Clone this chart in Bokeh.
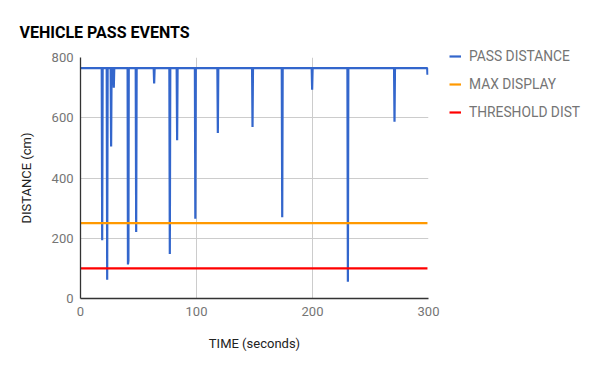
from bokeh.plotting import figure
from bokeh.models import Legend, LegendItem, FixedTicker, Range1d
from bokeh.embed import file_html
from bokeh.resources import INLINE

# ---- data ----
time_s = [0, 18.3, 18.7, 19.1, 22.6, 23.0, 23.4, 26.0, 26.4, 26.8, 28.3, 28.7, 29.1,
          40.6, 40.9, 41.3, 41.6, 47.6, 48.0, 48.4, 63.1, 63.5, 63.9,
          76.6, 77.0, 77.4, 82.9, 83.3, 83.7, 98.6, 99.0, 99.4,
          118.0, 118.4, 118.8, 147.9, 148.3, 148.7, 173.5, 173.9, 174.3,
          199.3, 199.7, 200.1, 230.1, 230.5, 230.9, 270.3, 270.7, 271.1,
          298.9, 299.1]
pass_distance = [765, 765, 193, 765, 765, 62, 765, 765, 505, 765, 765, 700, 765,
                 765, 113, 125, 765, 765, 221, 765, 765, 714, 765,
                 765, 148, 765, 765, 525, 765, 765, 265, 765,
                 765, 549, 765, 765, 569, 765, 765, 270, 765,
                 765, 693, 765, 765, 56, 765, 765, 587, 765,
                 765, 743]
ref_time = [0, 299.1]
max_display = [250, 250]
threshold_dist = [100, 100]

x_ticks = [0, 100, 200, 300]
y_ticks = [0, 200, 400, 600, 800]

FONT = "Roboto"

p = figure(frame_width=348, frame_height=241, output_backend="svg", toolbar_location=None,
           x_range=Range1d(0, 300), y_range=Range1d(0, 800),
           min_border_left=80, min_border_right=164, min_border_top=57, min_border_bottom=65,
           title="VEHICLE PASS EVENTS")
p.outline_line_color = None
p.background_fill_color = "white"
p.border_fill_color = "white"

p.title.text_font = FONT
p.title.text_font_size = "16px"
p.title.text_font_style = "bold"
p.title.text_color = "#000000"
p.title.align = "left"
p.title.offset = -61
p.title.standoff = 32

r_blue = p.line(time_s, pass_distance, line_color="#3366cc", line_width=2.2)
r_orange = p.line(ref_time, max_display, line_color="#ff9900", line_width=2.2)
r_red = p.line(ref_time, threshold_dist, line_color="#ff0000", line_width=2.2)

for ax in (p.xaxis[0], p.yaxis[0]):
    ax.axis_line_color = "#333333"
    ax.axis_line_width = 1.3
    ax.major_tick_line_color = None
    ax.minor_tick_line_color = None
    ax.major_tick_out = 0
    ax.major_tick_in = 0
    ax.minor_tick_out = 0
    ax.minor_tick_in = 0
    ax.major_label_text_font = FONT
    ax.major_label_text_font_size = "13px"
    ax.major_label_text_color = "#757575"
    ax.axis_label_text_font = FONT
    ax.axis_label_text_font_size = "13px"
    ax.axis_label_text_color = "#222222"
    ax.axis_label_text_font_style = "normal"

p.xaxis.ticker = FixedTicker(ticks=x_ticks)
p.yaxis.ticker = FixedTicker(ticks=y_ticks)
p.xaxis.axis_label = "TIME (seconds)"
p.yaxis.axis_label = "DISTANCE (cm)"
p.xaxis.major_label_standoff = 8
p.yaxis.major_label_standoff = 7
p.xaxis.axis_label_standoff = 17
p.yaxis.axis_label_standoff = 15

p.xgrid.ticker = FixedTicker(ticks=x_ticks)
p.ygrid.ticker = FixedTicker(ticks=y_ticks)
p.grid.grid_line_color = "#cccccc"
p.grid.grid_line_width = 1

legend = Legend(items=[LegendItem(label="PASS DISTANCE", renderers=[r_blue]),
                       LegendItem(label="MAX DISPLAY", renderers=[r_orange]),
                       LegendItem(label="THRESHOLD DIST", renderers=[r_red])],
                location=(21, 176), margin=0, padding=0, border_line_color=None,
                background_fill_alpha=0, label_text_font=FONT,
                label_text_font_size="13.8px", label_text_color="#757575",
                glyph_width=12, glyph_height=20, label_height=20, spacing=8,
                label_standoff=8)
p.add_layout(legend, "right")

open("out.html", "w").write(file_html(p, INLINE))
